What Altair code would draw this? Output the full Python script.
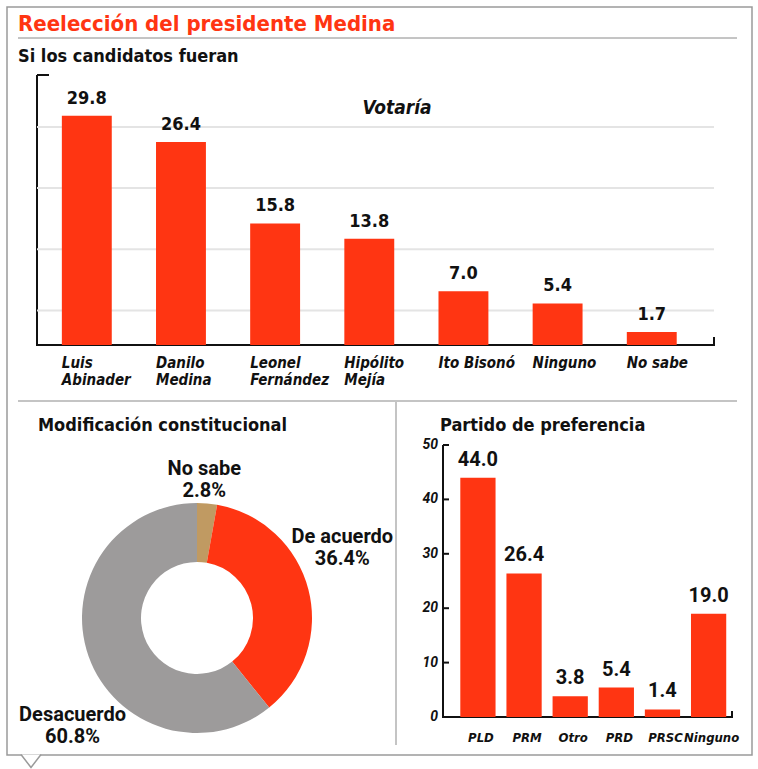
import altair as alt
import pandas as pd

# ---------------- data ----------------
cand = ["Luis Abinader", "Danilo Medina", "Leonel Fernández", "Hipólito Mejía",
        "Ito Bisonó", "Ninguno", "No sabe"]
cand_labels = ["Luis\nAbinader", "Danilo\nMedina", "Leonel\nFernández", "Hipólito\nMejía",
               "Ito Bisonó", "Ninguno", "No sabe"]
votaria = [29.8, 26.4, 15.8, 13.8, 7.0, 5.4, 1.7]
grid_top = [4.5, 12.45, 20.4, 28.35]

mod_cats = ["No sabe", "De acuerdo", "Desacuerdo"]
mod_vals = [2.8, 36.4, 60.8]

partidos = ["PLD", "PRM", "Otro", "PRD", "PRSC", "Ninguno"]
partido_vals = [44.0, 26.4, 3.8, 5.4, 1.4, 19.0]
partido_ticks = [0, 10, 20, 30, 40, 50]

# ---------------- style ----------------
RED = "#FF3512"
GRAY = "#9D9B9B"
TAN = "#C09A62"
INK = "#111111"
FRAME = "#9a9a9a"
COND = "DejaVu Sans Condensed, Roboto, sans-serif"
WIDE = "Roboto, Open Sans, sans-serif"

dummy = pd.DataFrame({"d": [0]})


def rule(x, y, x2=None, y2=None, color=INK, width=2):
    enc = dict(x=alt.value(x), y=alt.value(y))
    if x2 is not None:
        enc["x2"] = alt.value(x2)
    if y2 is not None:
        enc["y2"] = alt.value(y2)
    return alt.Chart(dummy).mark_rule(color=color, strokeWidth=width).encode(**enc)


def label(text, x, y, size, color=INK, font=COND, style="normal", align="left"):
    return alt.Chart(dummy).mark_text(
        text=text, font=font, fontSize=size, fontWeight="bold", fontStyle=style,
        color=color, align=align, baseline="alphabetic"
    ).encode(x=alt.value(x), y=alt.value(y))


# ---------------- top bar chart ----------------
df_top = pd.DataFrame({
    "cand": cand, "label": cand_labels, "v": votaria,
    "txt": [f"{v:.1f}" for v in votaria],
})
xs_top = alt.Scale(domain=cand, range=[37, 714], paddingInner=0.47,
                   paddingOuter=0.33, align=0.4)
ys_top = alt.Scale(domain=[0, 35.1], range=[345, 75], nice=False, zero=True)
X_top = alt.X("cand:N", scale=xs_top, axis=None)
Y_top = alt.Y("v:Q", scale=ys_top, axis=None)

grid = alt.Chart(pd.DataFrame({"g": grid_top})).mark_rule(
    color="#e4e4e4", strokeWidth=2
).encode(y=alt.Y("g:Q", scale=ys_top, axis=None), x=alt.value(37), x2=alt.value(714))

bars_top = alt.Chart(df_top).mark_bar(color=RED).encode(x=X_top, y=Y_top)
vals_top = alt.Chart(df_top).mark_text(
    font=COND, fontSize=18, fontWeight="bold", color=INK, baseline="middle", dy=-17
).encode(x=X_top, y=Y_top, text="txt:N")
xlab_top = alt.Chart(df_top).mark_text(
    font=COND, fontSize=15, fontWeight="bold", fontStyle="italic", color=INK,
    align="left", baseline="top", lineBreak="\n", lineHeight=17, dx=-25
).encode(x=X_top, y=alt.value(356), text="label:N")

top_layer = alt.layer(grid, bars_top, vals_top, xlab_top)

# ---------------- donut ----------------
df_mod = pd.DataFrame({
    "cat": mod_cats, "v": mod_vals, "o": list(range(len(mod_cats))),
    "txt": [f"{c}\n{v:.1f}%" for c, v in zip(mod_cats, mod_vals)],
})
donut_base = alt.Chart(df_mod).transform_window(
    cum="sum(v)", sort=[alt.SortField("o")]
).transform_calculate(start="datum.cum - datum.v", mid="datum.cum - datum.v / 2")
th_scale = alt.Scale(domain=[0, 100], range=[0, 6.283185307179586])

arcs = donut_base.mark_arc(innerRadius=56, outerRadius=115).encode(
    theta=alt.Theta("start:Q", scale=th_scale, stack=False),
    theta2="cum:Q",
    color=alt.Color("cat:N", scale=alt.Scale(domain=mod_cats, range=[TAN, RED, GRAY]),
                    legend=None),
    x=alt.value(197), y=alt.value(618),
)


def dlabel(cat, radius, dx, dy):
    return donut_base.transform_filter(alt.datum.cat == cat).mark_text(
        radius=radius, font=WIDE, fontSize=20, fontWeight="bold", color=INK,
        align="center", baseline="middle", lineBreak="\n", lineHeight=22, dx=dx, dy=dy
    ).encode(
        theta=alt.Theta("mid:Q", scale=th_scale, stack=False),
        x=alt.value(197), y=alt.value(618), text="txt:N",
    )


donut_layer = alt.layer(
    arcs,
    dlabel("No sabe", 140, -5, -10),
    dlabel("De acuerdo", 150, 0, -44),
    dlabel("Desacuerdo", 150, 17, 47),
)

# ---------------- bottom-right bar chart ----------------
df_br = pd.DataFrame({"p": partidos, "v": partido_vals,
                      "txt": [f"{v:.1f}" for v in partido_vals]})
xs_br = alt.Scale(domain=partidos, range=[443, 732], paddingInner=0.236,
                  paddingOuter=0.25, align=0.75)
ys_br = alt.Scale(domain=[0, 50], range=[717, 445], nice=False, zero=True)
X_br = alt.X("p:N", scale=xs_br, axis=None)
Y_br = alt.Y("v:Q", scale=ys_br, axis=None)

bars_br = alt.Chart(df_br).mark_bar(color=RED).encode(x=X_br, y=Y_br)
vals_br = alt.Chart(df_br).mark_text(
    font=WIDE, fontSize=20, fontWeight="bold", color=INK, baseline="middle", dy=-18
).encode(x=X_br, y=Y_br, text="txt:N")
xlab_br = alt.Chart(df_br).mark_text(
    font=COND, fontSize=13, fontWeight="bold", fontStyle="italic", color=INK,
    baseline="middle", dx=3
).encode(x=X_br, y=alt.value(738), text="p:N")

df_ticks = pd.DataFrame({"t": partido_ticks})
ytick_lab = alt.Chart(df_ticks).mark_text(
    font=WIDE, fontSize=14, fontWeight="bold", fontStyle="italic", color=INK,
    align="right", baseline="middle"
).encode(y=alt.Y("t:Q", scale=ys_br, axis=None), x=alt.value(438),
         text=alt.Text("t:Q", format="d"))
ytick_rule = alt.Chart(df_ticks).mark_rule(color=INK, strokeWidth=2).encode(
    y=alt.Y("t:Q", scale=ys_br, axis=None), x=alt.value(443), x2=alt.value(449)
)

br_layer = alt.layer(bars_br, vals_br, xlab_br, ytick_lab, ytick_rule)

# ---------------- decorations ----------------
frame = alt.Chart(dummy).mark_rect(
    fill="transparent", stroke=FRAME, strokeWidth=1.5
).encode(x=alt.value(7), x2=alt.value(752), y=alt.value(7), y2=alt.value(755))
notch = alt.Chart(dummy).mark_point(
    shape="M-1,0L0,1.3L1,0", size=400, filled=True, fill="white", stroke=FRAME,
    strokeWidth=1.5, opacity=1
).encode(x=alt.value(31), y=alt.value(754.5))

deco = alt.layer(
    frame, notch,
    rule(18, 38, x2=737, color="#8a8a8a", width=1),
    rule(18, 401, x2=737, color="#c4c4c4", width=2),
    rule(396, 401, y2=745, color="#c4c4c4", width=2),
    # top chart axis frame
    rule(37, 75, y2=346, width=2),
    rule(37, 75, x2=49, width=2),
    rule(36, 345, x2=715, width=2),
    rule(714, 337, y2=346, width=2),
    # bottom-right axis frame
    rule(443, 445, y2=718, width=2),
    rule(442, 717, x2=733, width=2),
    rule(732, 711, y2=718, width=2),
    label("Reelección del presidente Medina", 18, 31, 22, color=RED),
    label("Si los candidatos fueran", 18, 62, 18),
    label("Votaría", 397, 114, 19, style="italic", align="center"),
    label("Modificación constitucional", 38, 431, 18),
    label("Partido de preferencia", 440, 431, 18),
)

chart = alt.layer(deco, top_layer, donut_layer, br_layer).resolve_scale(
    x="independent", y="independent", theta="independent", color="independent"
).properties(
    width=758, height=769, padding=0, background="white",
    autosize=alt.AutoSizeParams(type="none"),
).configure_view(stroke=None)

chart.save("out.html", embed_options={"renderer": "svg", "actions": False})
